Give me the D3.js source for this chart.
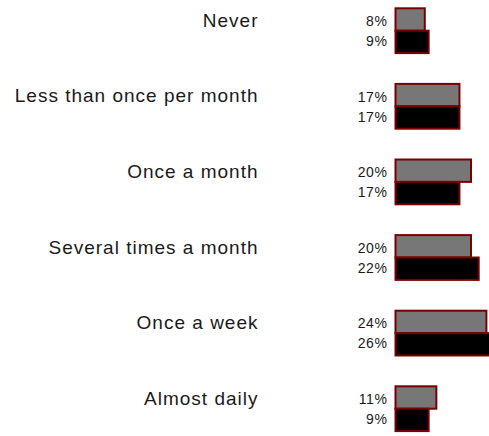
<!DOCTYPE html>
<html>
<head>
<meta charset="utf-8">
<script src="https://cdn.jsdelivr.net/npm/d3@7/dist/d3.min.js"></script>
<style>
  html, body { margin: 0; padding: 0; background: #fff; }
  svg { display: block; }
</style>
</head>
<body>
<svg id="chart" width="489" height="436"></svg>
<script>
const categories = ["Never", "Less than once per month", "Once a month", "Several times a month", "Once a week", "Almost daily"];
const seriesNames = ["A", "B"];
const seriesA = [8, 17, 20, 20, 24, 11];
const seriesB = [9, 17, 17, 22, 26, 9];
const colors = ["#777777", "#000000"];

const svg = d3.select("#chart");

const y = d3.scalePoint().domain(categories).range([30.7, 408.7]);
const sub = d3.scaleBand().domain(seriesNames).range([-22.4, 22.4]);
const x = d3.scaleLinear().domain([0, 100]).range([395.5, 395.5 + 385]);

const data = categories.map((c, i) => ({ cat: c, vals: [seriesA[i], seriesB[i]] }));

const g = svg.selectAll("g.grp").data(data).join("g")
  .attr("class", "grp")
  .attr("transform", d => `translate(0,${y(d.cat)})`);

g.selectAll("rect").data(d => d.vals.map((v, j) => ({ v, s: seriesNames[j], j }))).join("rect")
  .attr("x", x(0))
  .attr("y", d => sub(d.s))
  .attr("width", d => x(d.v) - x(0) - 1.5)
  .attr("height", sub.bandwidth())
  .attr("fill", d => colors[d.j])
  .attr("stroke", "#7a0000")
  .attr("stroke-width", 2);

g.selectAll("text.val").data(d => d.vals.map((v, j) => ({ v, s: seriesNames[j], j }))).join("text")
  .attr("class", "val")
  .attr("x", 387.5)
  .attr("y", d => sub(d.s) + sub.bandwidth() / 2)
  .attr("dy", d => d.j === 0 ? "0.46em" : "0.3em")
  .attr("text-anchor", "end")
  .style("font-family", "'Liberation Sans', Arial, sans-serif")
  .style("font-size", "14px")
  .style("letter-spacing", "0.6px")
  .attr("fill", "#1a1a1a")
  .text(d => d.v + "%");

g.append("text")
  .attr("x", 258.5)
  .attr("y", sub("A") + sub.bandwidth() / 2)
  .attr("dy", "0.38em")
  .attr("text-anchor", "end")
  .style("font-family", "'Liberation Sans', Arial, sans-serif")
  .style("font-size", "19px")
  .style("letter-spacing", "1px")
  .attr("fill", "#1a1a1a")
  .text(d => d.cat);
</script>
</body>
</html>
